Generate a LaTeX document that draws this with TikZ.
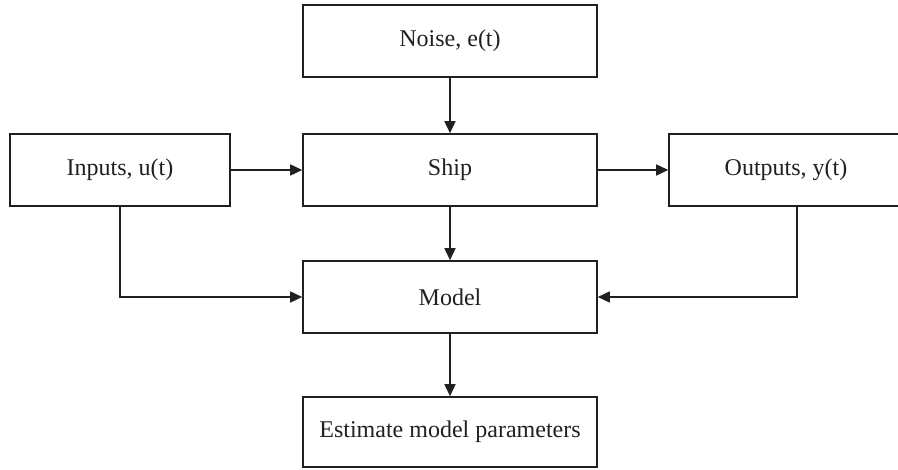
\documentclass[tikz,border=0pt]{standalone}
\usepackage{fontspec}
\setmainfont{Liberation Serif}
\usetikzlibrary{arrows.meta}
\definecolor{ink}{HTML}{231F20}
\begin{document}
\begin{tikzpicture}[x=1pt,y=1pt,
  box/.style={draw=ink, line width=1.6pt, minimum height=72pt, inner sep=0pt,
    font=\fontsize{24}{28}\selectfont, text=ink},
  wide/.style={box, minimum width=294pt},
  conn/.style={draw=ink, line width=1.6pt, -{Triangle[length=12pt,width=11pt]}}]
\useasboundingbox (0,0) rectangle (898,470);
\clip (0,0) rectangle (898,470);
\node[wide] (noise) at (450,429) {Noise, e(t)};
\node[wide] (ship) at (450,300) {Ship};
\node[box, minimum width=220pt] (inputs) at (120,300) {Inputs, u(t)};
\node[box, minimum width=256pt] (outputs) at (797,300) {};
\node[font=\fontsize{24}{28}\selectfont, text=ink] (outlabel) at (786,300) {Outputs, y(t)};
\node[wide] (model) at (450,173) {Model};
\node[wide, minimum height=70pt] (est) at (450,38) {Estimate model parameters};
\draw[conn] (noise) -- (ship);
\draw[conn] (inputs) -- (ship);
\draw[conn] (ship) -- (outputs);
\draw[conn] (ship) -- (model);
\draw[conn] (model) -- (est);
\draw[conn] (inputs.south) |- (model.west);
\draw[conn] (outputs.south) |- (model.east);
\end{tikzpicture}
\end{document}
